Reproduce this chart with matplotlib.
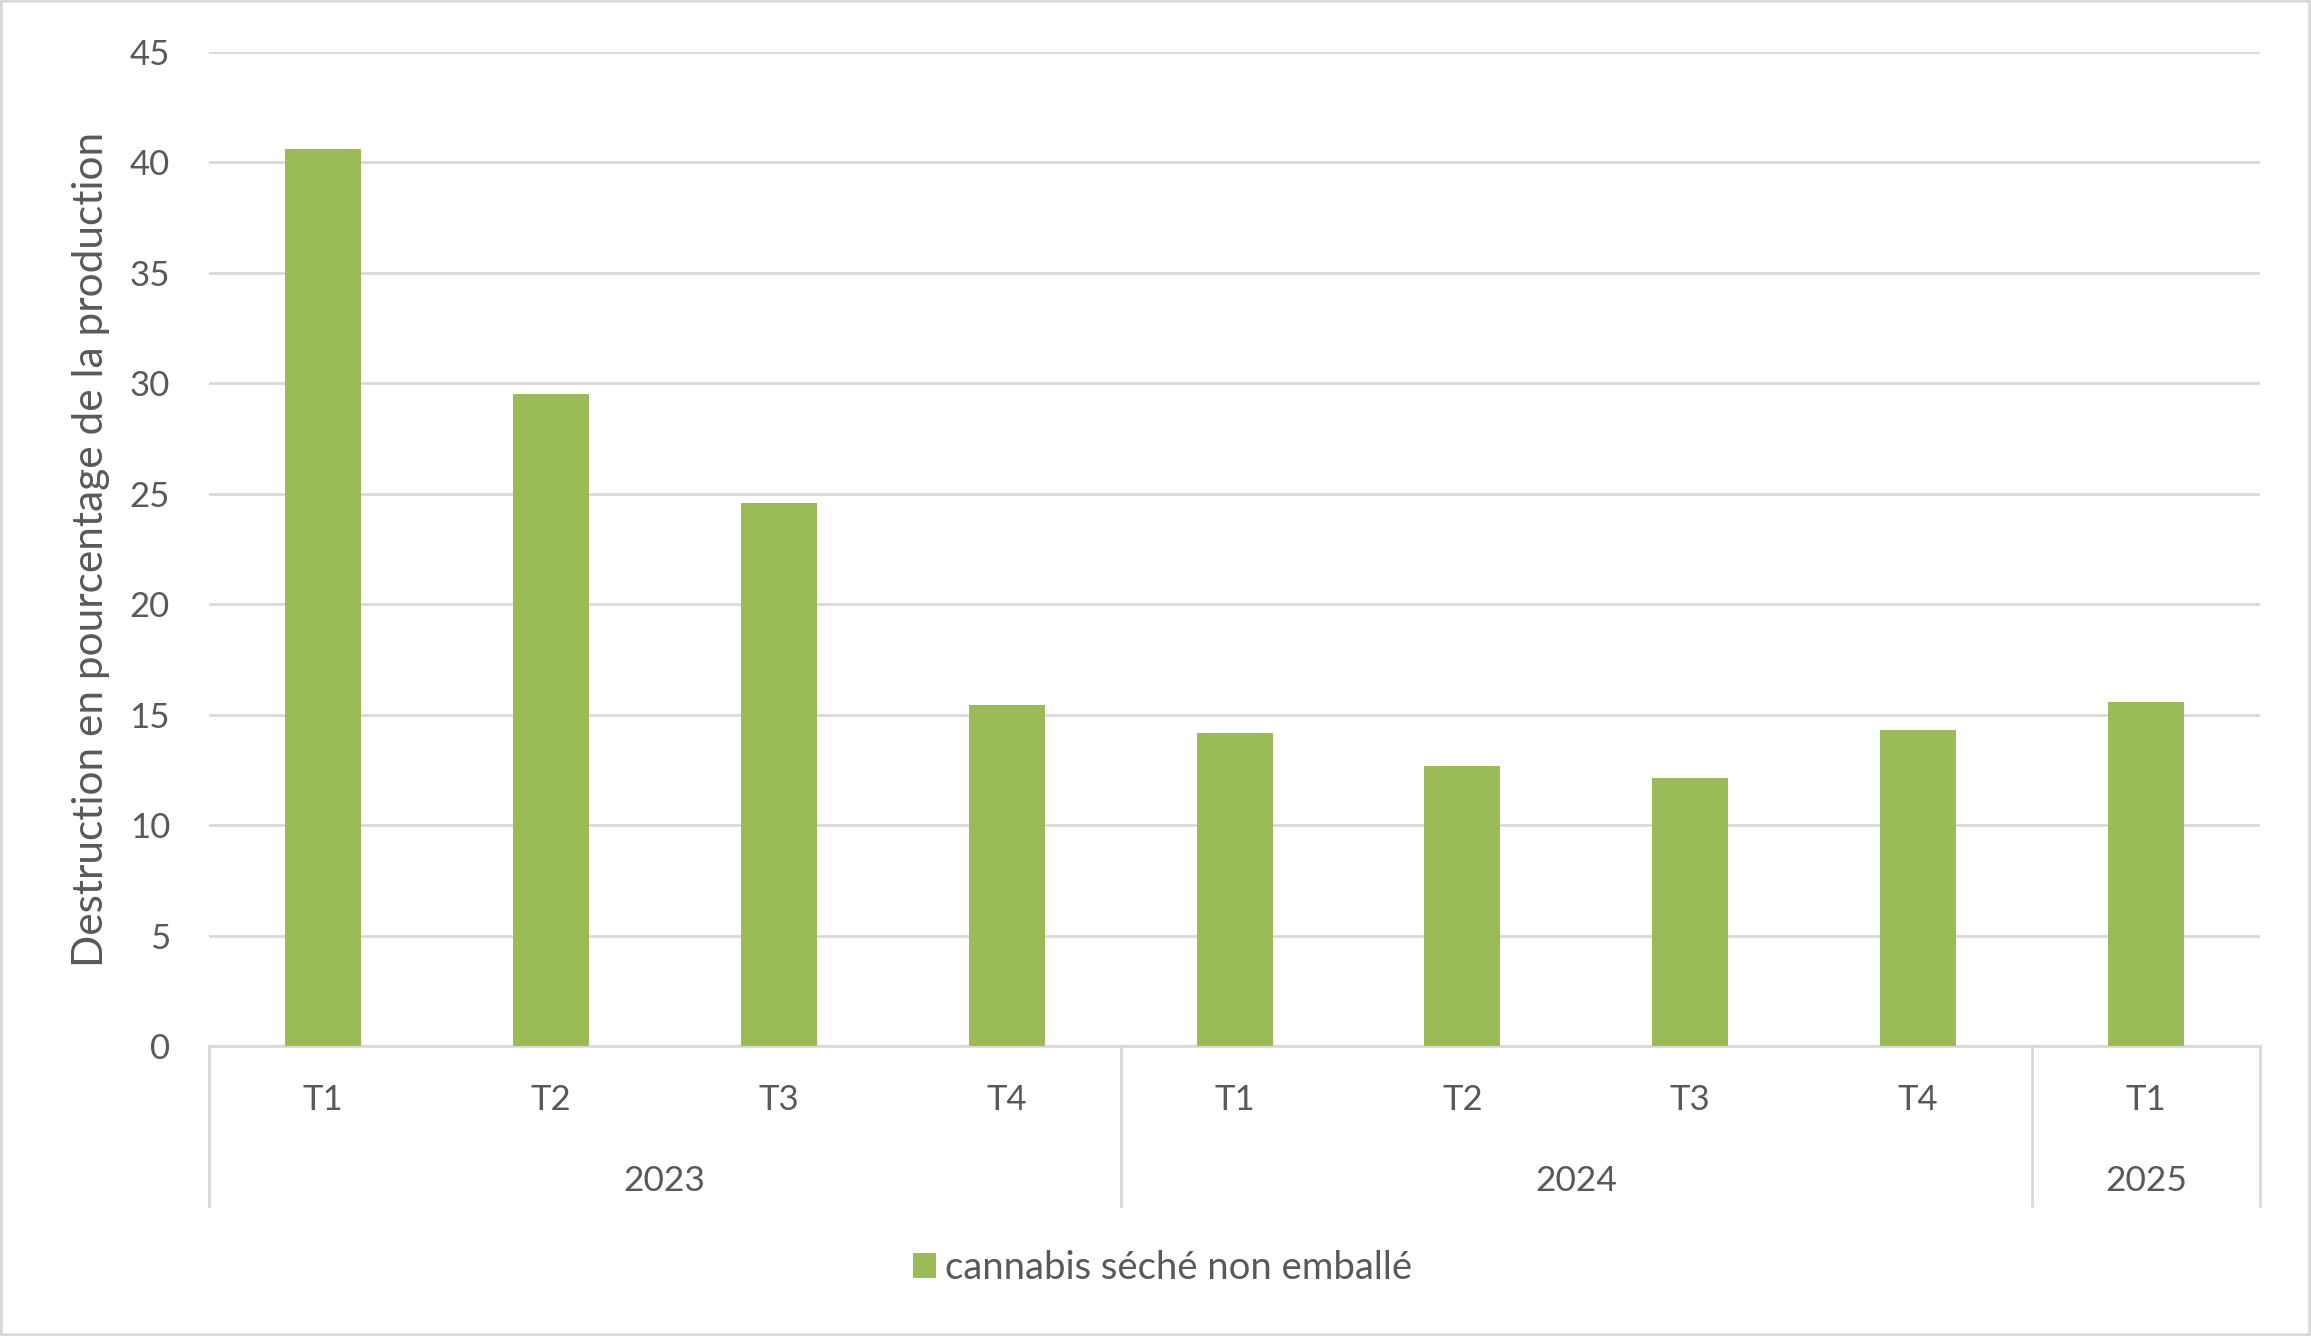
import matplotlib
matplotlib.use('Agg')
from matplotlib import pyplot as plt
from matplotlib.patches import Rectangle
import matplotlib.transforms as mtransforms

plt.rcParams['font.family'] = ['Lato', 'DejaVu Sans']

quarters = ['T1', 'T2', 'T3', 'T4', 'T1', 'T2', 'T3', 'T4', 'T1']
years = ['2023', '2024', '2025']
year_counts = [4, 4, 1]
values = [40.6, 29.5, 24.6, 15.45, 14.2, 12.7, 12.15, 14.3, 15.6]
series_name = 'cannabis séché non emballé'

green = '#9BBB59'
text_gray = '#595959'
grid_gray = '#D9D9D9'

fig = plt.figure(figsize=(23.11, 13.36), dpi=100)
ax = fig.add_axes([0.0904, 0.2167, 0.978 - 0.0904, 0.9614 - 0.2167])

x = list(range(len(values)))
ax.bar(x, values, width=1/3, color=green, label=series_name, zorder=3)

ax.set_xlim(-0.5, len(values) - 0.5)
ax.set_ylim(0, 45)
ax.set_yticks(range(0, 46, 5))
ax.yaxis.grid(True, color=grid_gray, linewidth=2, zorder=0)
ax.set_axisbelow(True)
for s in ['left', 'right', 'top']:
    ax.spines[s].set_visible(False)
ax.spines['bottom'].set_color(grid_gray)
ax.spines['bottom'].set_linewidth(2)
ax.tick_params(axis='y', length=0, pad=28, labelsize=25, labelcolor=text_gray)

ax.set_xticks(x)
ax.set_xticklabels([])
trans = mtransforms.blended_transform_factory(ax.transData, ax.transAxes)
for xi, q in zip(x, quarters):
    ax.text(xi, -0.054, q, transform=trans, ha='center', va='center',
            fontsize=25, color=text_gray)
ax.tick_params(axis='x', length=0)

# group separators and year labels
start = -0.5
edges = [start]
for yr, n in zip(years, year_counts):
    ax.text(start + n / 2, -0.135, yr, transform=trans, ha='center', va='center',
            fontsize=25.5, color=text_gray)
    start += n
    edges.append(start)
for e in edges:
    ax.plot([e, e], [0, -0.1603], transform=trans, color=grid_gray,
            linewidth=2, clip_on=False)

ax.set_ylabel('Destruction en pourcentage de la production', fontsize=30.5,
              color=text_gray)
ax.yaxis.set_label_coords(-0.048, 0.5)

fig.legend(loc='center', bbox_to_anchor=(0.503, 0.0509), frameon=False,
           fontsize=27.5, labelcolor=text_gray, handlelength=0.6, handleheight=0.6,
           handletextpad=0.25)

fig.patches.append(Rectangle((0, 0), 1, 1, transform=fig.transFigure, fill=False,
                             edgecolor=grid_gray, linewidth=4))

fig.savefig('out.png', dpi=100)
